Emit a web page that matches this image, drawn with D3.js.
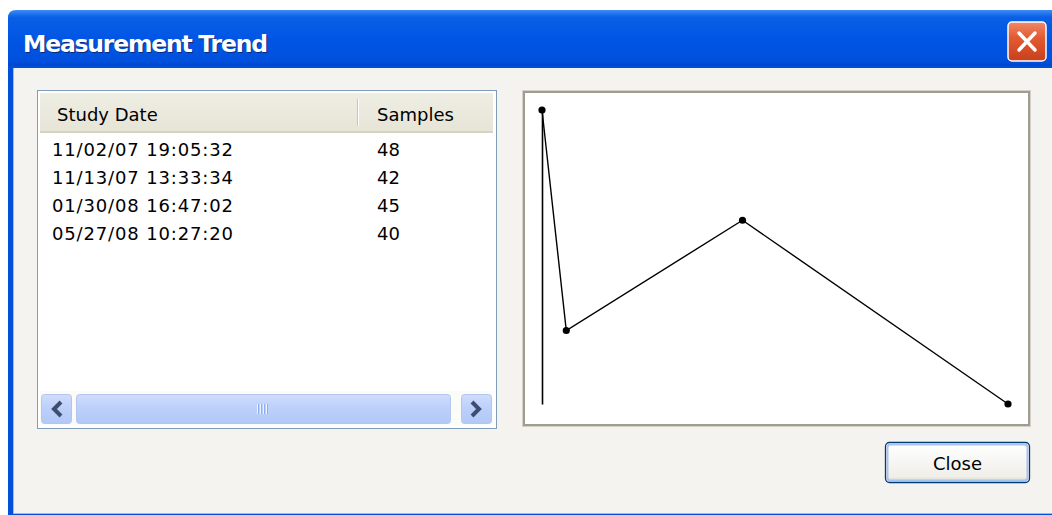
<!DOCTYPE html>
<html>
<head>
<meta charset="utf-8">
<script src="https://cdn.jsdelivr.net/npm/d3@7"></script>
<style>
  html, body { margin: 0; padding: 0; background: #fff; }
  svg { display: block; }
  text { font-family: "DejaVu Sans", sans-serif; }
</style>
</head>
<body>
<svg id="win" width="1052" height="515"></svg>
<script>
// Data read from the dialog
const studyDates = ["11/02/07 19:05:32", "11/13/07 13:33:34", "01/30/08 16:47:02", "05/27/08 10:27:20"];
const samples = [48, 42, 45, 40];
const columns = ["Study Date", "Samples"];
const title = "Measurement Trend";

const W = 1052, H = 515;
const svg = d3.select("#win");
const defs = svg.append("defs");

// gradients for XP look
function grad(id, stops, vertical) {
  const g = defs.append("linearGradient").attr("id", id)
    .attr("x1", 0).attr("y1", 0).attr("x2", vertical ? 0 : 1).attr("y2", vertical ? 1 : 0);
  stops.forEach(function (s) {
    g.append("stop").attr("offset", s[0]).attr("stop-color", s[1]);
  });
}
grad("titleGrad", [[0, "#3b8cf5"], [0.12, "#0a5fe6"], [0.5, "#0055e5"], [0.85, "#0050dd"], [1, "#003fc0"]], true);
grad("closeGrad", [[0, "#f08a6a"], [0.4, "#e35a32"], [1, "#c8401c"]], true);
grad("barGrad", [[0, "#cfdcfd"], [0.5, "#bccffb"], [1, "#b3c8f7"]], true);
grad("btnGrad", [[0, "#ffffff"], [0.85, "#f0efe9"], [1, "#d8d5c8"]], true);
grad("hdrGrad", [[0, "#efeee4"], [1, "#e6e4d6"]], true);

// window frame
svg.append("path")
  .attr("d", "M8,70 V18 Q8,10 16,10 H" + W + " V70 Z")
  .attr("fill", "url(#titleGrad)");
svg.append("rect").attr("x", 8).attr("y", 66).attr("width", W - 8).attr("height", H - 66).attr("fill", "#0050dc");
svg.append("rect").attr("x", 13).attr("y", 68).attr("width", W - 13).attr("height", H - 69).attr("fill", "#9cb8f2");
svg.append("rect").attr("x", 14).attr("y", 68).attr("width", W - 14).attr("height", H - 70).attr("fill", "#f4f3ef");

// title text with shadow
svg.append("text").attr("x", 24).attr("y", 53).attr("fill", "#0a2a80")
  .attr("font-size", 23.5).attr("font-weight", "bold").attr("textLength", 245).text(title);
svg.append("text").attr("x", 23).attr("y", 52).attr("fill", "#ffffff")
  .attr("font-size", 23.5).attr("font-weight", "bold").attr("textLength", 245).text(title);

// title close button
const xb = svg.append("g").attr("transform", "translate(1008,22)");
xb.append("rect").attr("width", 38).attr("height", 39).attr("rx", 4)
  .attr("fill", "url(#closeGrad)").attr("stroke", "#ffffff").attr("stroke-width", 1.5);
xb.append("path").attr("d", "M11,11 L27,28 M27,11 L11,28")
  .attr("stroke", "#ffffff").attr("stroke-width", 3.5).attr("stroke-linecap", "round");

// list view
const list = { x: 37, y: 90, w: 459, h: 338 };
svg.append("rect").attr("x", list.x + 0.5).attr("y", list.y + 0.5)
  .attr("width", list.w).attr("height", list.h)
  .attr("fill", "#ffffff").attr("stroke", "#7f9db9");
svg.append("rect").attr("x", 40).attr("y", 93).attr("width", 453).attr("height", 40).attr("fill", "url(#hdrGrad)");
svg.append("rect").attr("x", 40).attr("y", 131).attr("width", 453).attr("height", 2).attr("fill", "#d6d3c3");
svg.append("rect").attr("x", 357).attr("y", 99).attr("width", 1).attr("height", 27).attr("fill", "#cbc7b8");
svg.append("rect").attr("x", 358).attr("y", 99).attr("width", 1).attr("height", 27).attr("fill", "#ffffff");

const colX = [57, 377];
svg.selectAll(".hdr").data(columns).enter().append("text")
  .attr("class", "hdr")
  .attr("x", function (d, i) { return colX[i]; })
  .attr("y", 121).attr("font-size", 18).attr("fill", "#000").text(function (d) { return d; });

const rowY = d3.scaleLinear().domain([0, 1]).range([156, 184]);
const rows = svg.selectAll(".row").data(studyDates.map(function (d, i) { return { date: d, n: samples[i] }; }))
  .enter().append("g").attr("class", "row")
  .attr("transform", function (d, i) { return "translate(0," + rowY(i) + ")"; });
rows.append("text").attr("x", 52).attr("font-size", 18).attr("fill", "#000")
  .attr("textLength", 181).text(function (d) { return d.date; });
rows.append("text").attr("x", 377).attr("font-size", 18).attr("fill", "#000")
  .text(function (d) { return d.n; });

// horizontal scrollbar
svg.append("rect").attr("x", 40).attr("y", 391).attr("width", 453).attr("height", 34).attr("fill", "#fbfbf8");
function sbBtn(x, w) {
  svg.append("rect").attr("x", x + 0.5).attr("y", 394.5).attr("width", w).attr("height", 29).attr("rx", 3)
    .attr("fill", "url(#barGrad)").attr("stroke", "#b4c6ef");
}
sbBtn(41, 30);
sbBtn(76, 374);
sbBtn(461, 30);
svg.append("path").attr("d", "M61,402 L54,409 L61,416").attr("fill", "none")
  .attr("stroke", "#3c4d70").attr("stroke-width", 4);
svg.append("path").attr("d", "M472,402 L479,409 L472,416").attr("fill", "none")
  .attr("stroke", "#3c4d70").attr("stroke-width", 4);
[257, 260, 263, 266].forEach(function (gx) {
  svg.append("rect").attr("x", gx).attr("y", 404).attr("width", 1).attr("height", 10).attr("fill", "#eef3ff");
  svg.append("rect").attr("x", gx + 1).attr("y", 404).attr("width", 1).attr("height", 10).attr("fill", "#8cb0f8");
});

// chart frame
svg.append("rect").attr("x", 522).attr("y", 90).attr("width", 509).attr("height", 337).attr("fill", "#d4d0c8");
svg.append("rect").attr("x", 523).attr("y", 91).attr("width", 507).attr("height", 335).attr("fill", "#9d9d92");
svg.append("rect").attr("x", 525).attr("y", 93).attr("width", 503).attr("height", 331).attr("fill", "#ffffff");

// trend chart
const parse = d3.timeParse("%m/%d/%y %H:%M:%S");
const pts = studyDates.map(function (d, i) { return { t: parse(d), v: samples[i] }; });
const x = d3.scaleTime().domain(d3.extent(pts, function (d) { return d.t; })).range([542, 1008]);
const y = d3.scaleLinear().domain(d3.extent(pts, function (d) { return d.v; })).range([404, 110]);

const axis = svg.append("g").attr("transform", "translate(" + x(pts[0].t) + ",0)")
  .call(d3.axisLeft(y).tickValues([]).tickSizeOuter(0));
axis.select(".domain").attr("stroke", "#000").attr("stroke-width", 1.6);

svg.append("path").datum(pts)
  .attr("fill", "none").attr("stroke", "#000").attr("stroke-width", 1.4)
  .attr("d", d3.line().x(function (d) { return x(d.t); }).y(function (d) { return y(d.v); }));
svg.selectAll(".pt").data(pts).enter().append("circle").attr("class", "pt")
  .attr("cx", function (d) { return x(d.t); })
  .attr("cy", function (d) { return y(d.v); })
  .attr("r", 3.6).attr("fill", "#000");

// Close button
const cb = svg.append("g").attr("transform", "translate(885,442)");
cb.append("rect").attr("x", 0.5).attr("y", 0.5).attr("width", 144).attr("height", 40).attr("rx", 4)
  .attr("fill", "url(#btnGrad)").attr("stroke", "#003c74").attr("stroke-width", 1.3);
cb.append("rect").attr("x", 2.5).attr("y", 2.5).attr("width", 140).attr("height", 36).attr("rx", 3)
  .attr("fill", "none").attr("stroke", "#a9c3ef").attr("stroke-width", 2);
cb.append("text").attr("x", 72.5).attr("y", 28).attr("text-anchor", "middle")
  .attr("font-size", 18).attr("fill", "#000").text("Close");
</script>
</body>
</html>
